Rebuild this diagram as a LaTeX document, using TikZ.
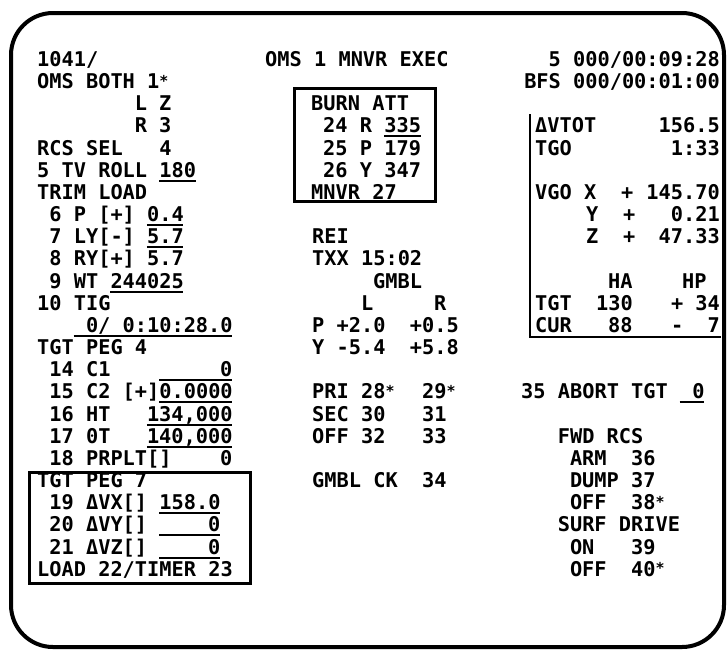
\documentclass[tikz,border=0pt]{standalone}
\usepackage{fontspec}
\newfontfamily\crt{DejaVu Sans Mono}
\newcommand{\T}[4]{\node[txt] (#1) at (#2,{66.4+22.17*#3}) {#4};}
\newcommand{\TR}[4]{\node[txtr] (#1) at (#2,{66.4+22.17*#3}) {#4};}
\newcommand{\UL}[3]{\draw[uline] (#1,{69.8+22.17*#3}) -- (#2,{69.8+22.17*#3});}
\newcommand{\st}{\makebox[12.22pt][l]{\raisebox{2.5pt}{\fontsize{15pt}{15pt}\selectfont *}}}
\begin{document}
\frenchspacing
\begin{tikzpicture}[x=1pt,y=-1pt,
  txt/.style={font=\crt\bfseries\fontsize{20.3pt}{22pt}\selectfont, inner sep=0pt, anchor=base west},
  txtr/.style={txt, anchor=base east},
  uline/.style={line width=2pt},
  frame/.style={line width=4pt, rounded corners=42pt},
  boxline/.style={line width=3pt}]
\useasboundingbox (0,0) rectangle (727,651);
\draw[frame] (11,13) rectangle (724,647);
% ---------- left block ----------
\T{l0}{37}{0}{1041/}
\T{l1}{37}{1}{OMS BOTH 1\st}
\T{l2}{134.6}{2}{L Z}
\T{l3}{134.6}{3}{R 3}
\T{l4}{37}{4}{RCS SEL~~~4}
\T{l5}{37}{5}{5 TV ROLL 180}
\T{l6}{37}{6}{TRIM LOAD}
\T{l7}{49.2}{7}{6 P [+] 0.4}
\T{l8}{49.2}{8}{7 LY[-] 5.7}
\T{l9}{49.2}{9}{8 RY[+] 5.7}
\T{l10}{49.2}{10}{9 WT 244025}
\T{l11}{37}{11}{10 TIG}
\T{l12}{85.8}{12}{0/ 0:10:28.0}
\T{l13}{37}{13}{TGT PEG 4}
\T{l14}{49.2}{14}{14 C1}
\T{l14v}{220}{14}{0}
\T{l15}{49.2}{15}{15 C2 [+]0.0000}
\T{l16}{49.2}{16}{16 HT}
\T{l16v}{146.8}{16}{134,000}
\T{l17}{49.2}{17}{17 0T}
\T{l17v}{146.8}{17}{140,000}
\T{l18}{49.2}{18}{18 PRPLT[]}
\T{l18v}{220}{18}{0}
\T{l19}{37}{19}{TGT PEG 7}
\T{l20}{49.2}{20}{19 ΔVX[] 158.0}
\T{l21}{49.2}{21}{20 ΔVY[]}
\T{l21v}{207.8}{21}{0}
\T{l22}{49.2}{22}{21 ΔVZ[]}
\T{l22v}{207.8}{22}{0}
\T{l23}{37}{23}{LOAD 22/TIMER 23}
\UL{159}{195.6}{5}
\UL{146.8}{183.4}{7}
\UL{146.8}{183.4}{8}
\UL{110.2}{183.4}{10}
\UL{73.6}{232.2}{12}
\UL{159}{232.2}{14}
\UL{159}{232.2}{15}
\UL{146.8}{232.2}{16}
\UL{146.8}{232.2}{17}
\UL{159}{220}{20}
\UL{159}{220}{21}
\UL{159}{220}{22}
\draw[boxline] (29,472) rectangle (250,583);
% ---------- middle block ----------
\T{m0}{265}{0}{OMS 1 MNVR EXEC}
\T{m2}{311}{2}{BURN ATT}
\T{m3}{323}{3}{24 R 335}
\T{m4}{323}{4}{25 P 179}
\T{m5}{323}{5}{26 Y 347}
\T{m6}{311}{6}{MNVR 27}
\UL{384}{420.6}{3}
\draw[boxline] (294,88) rectangle (435,201);
\T{m8}{312}{8}{REI}
\T{m9}{312}{9}{TXX 15:02}
\T{m10}{373}{10}{GMBL}
\T{m11l}{361}{11}{L}
\T{m11r}{434}{11}{R}
\T{m12}{312}{12}{P +2.0~~+0.5}
\T{m13}{312}{13}{Y -5.4~~+5.8}
\T{m15}{312}{15}{PRI 28\st~~29\st}
\T{m16}{312}{16}{SEC 30~~~31}
\T{m17}{312}{17}{OFF 32~~~33}
\T{m19}{312}{19}{GMBL CK~~34}
% ---------- right block ----------
\TR{r0}{720}{0}{5 000/00:09:28}
\TR{r1}{720}{1}{BFS 000/00:01:00}
\draw[boxline, line width=2.5pt] (530,114) -- (530,337) -- (721,337);
\T{r3}{535}{3}{ΔVTOT}
\TR{r3v}{720}{3}{156.5}
\T{r4}{535}{4}{TGO}
\TR{r4v}{720}{4}{1:33}
\T{r6}{535}{6}{VGO}
\T{r6x}{584}{6}{X}
\T{r6s}{621}{6}{+}
\TR{r6v}{720}{6}{145.70}
\T{r7x}{586}{7}{Y}
\T{r7s}{623}{7}{+}
\TR{r7v}{720}{7}{0.21}
\T{r8x}{586}{8}{Z}
\T{r8s}{623}{8}{+}
\TR{r8v}{720}{8}{47.33}
\T{r10a}{608}{10}{HA}
\T{r10p}{682}{10}{HP}
\T{r11}{535}{11}{TGT}
\T{r11a}{596}{11}{130}
\T{r11s}{671}{11}{+}
\TR{r11v}{720}{11}{34}
\T{r12}{535}{12}{CUR}
\T{r12a}{608}{12}{88}
\T{r12s}{671}{12}{-}
\TR{r12v}{720}{12}{7}
\T{r15}{521}{15}{35 ABORT TGT~~0}
\UL{679.6}{704}{15}
\T{r17}{557.6}{17}{FWD RCS}
\T{r18}{569.8}{18}{ARM~~36}
\T{r19}{569.8}{19}{DUMP 37}
\T{r20}{569.8}{20}{OFF~~38\st}
\T{r21}{557.6}{21}{SURF DRIVE}
\T{r22}{569.8}{22}{ON~~~39}
\T{r23}{569.8}{23}{OFF~~40\st}
\end{tikzpicture}
\end{document}
